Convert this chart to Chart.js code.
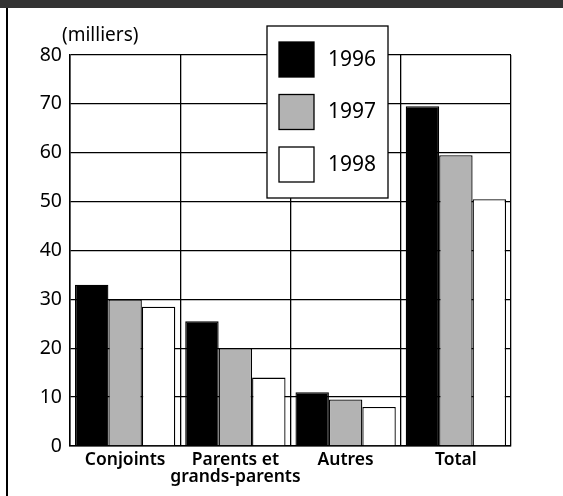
<!DOCTYPE html>
<html>
<head>
<meta charset="utf-8">
<script src="https://cdn.jsdelivr.net/npm/chart.js@4"></script>
<style>
  html, body { margin: 0; padding: 0; background: #fff; }
  #wrap { position: relative; width: 563px; height: 496px; }
</style>
</head>
<body>
<div id="wrap"><canvas id="myChart1" width="563" height="496"></canvas></div>
<script>
const categories = ["Conjoints", ["Parents et", "grands-parents"], "Autres", "Total"];
const years = ["1996", "1997", "1998"];
const values1996 = [33, 25.5, 11, 69.5];
const values1997 = [30, 20, 9.5, 59.5];
const values1998 = [28.5, 14, 8, 50.5];
const yTicks = [0, 10, 20, 30, 40, 50, 60, 70, 80];
const unitLabel = "(milliers)";

const fills = ["#000000", "#b3b3b3", "#ffffff"];
const fontFamily = "'Noto Sans', 'Open Sans', sans-serif";

// dark strip on top and black rule on the left, plus the unit label
const framePlugin = {
  id: "frame",
  beforeDraw(chart) {
    const c = chart.ctx;
    c.save();
    c.fillStyle = "#fff";
    c.fillRect(0, 0, chart.width, chart.height);
    c.fillStyle = "#333333";
    c.fillRect(0, 0, chart.width, 8);
    c.fillStyle = "#000";
    c.fillRect(6, 8, 2, chart.height - 8);
    c.restore();
  },
  afterDraw(chart) {
    const c = chart.ctx;
    c.save();
    c.fillStyle = "#000";
    c.font = "19px " + fontFamily;
    c.textBaseline = "alphabetic";
    c.textAlign = "left";
    c.fillText(unitLabel, 62, 41);
    c.restore();
  },
};

// boxed legend sitting over the plot
const boxLegend = {
  id: "boxLegend",
  afterDraw(chart) {
    const c = chart.ctx;
    c.save();
    c.fillStyle = "#fff";
    c.fillRect(267, 26, 121, 172);
    c.strokeStyle = "#000";
    c.lineWidth = 1.3;
    c.strokeRect(267, 26, 121, 172);
    c.font = "21px " + fontFamily;
    c.textBaseline = "middle";
    c.textAlign = "left";
    chart.data.datasets.forEach((ds, i) => {
      const y = 42 + i * 52.5;
      c.fillStyle = ds.backgroundColor;
      c.fillRect(279, y, 35, 35);
      c.strokeRect(279, y, 35, 35);
      c.fillStyle = "#000";
      c.fillText(ds.label, 328, y + 18);
    });
    c.restore();
  },
};

const chart1 = document.getElementById("myChart1").getContext("2d");
const myChart1 = new Chart(chart1, {
  type: "bar",
  data: {
    labels: categories,
    datasets: [
      { label: years[0], data: values1996, backgroundColor: fills[0] },
      { label: years[1], data: values1997, backgroundColor: fills[1] },
      { label: years[2], data: values1998, backgroundColor: fills[2] },
    ].map((d) => ({
      ...d,
      borderColor: "#000",
      borderWidth: 1.3,
      borderSkipped: "start",
      categoryPercentage: 0.91,
      barPercentage: 1,
    })),
  },
  options: {
    responsive: false,
    animation: false,
    layout: { padding: { left: 0, right: 52, top: 55, bottom: 0 } },
    plugins: {
      legend: { display: false },
      tooltip: { enabled: false },
    },
    scales: {
      x: {
        grid: { color: "#000", lineWidth: 1.3, drawTicks: false, offset: true },
        border: { color: "#000", width: 1.5 },
        ticks: {
          color: "#000",
          padding: 5,
          maxRotation: 0,
          autoSkip: false,
          font: { family: fontFamily, size: 17.5, weight: "600", lineHeight: 1.0 },
        },
        afterFit(scale) { scale.height = 50; },
      },
      y: {
        min: 0,
        max: 80,
        afterBuildTicks(scale) { scale.ticks = yTicks.map((v) => ({ value: v })); },
        grid: { color: "#000", lineWidth: 1.3, drawTicks: false },
        border: { color: "#000", width: 1.5 },
        ticks: {
          color: "#000",
          padding: 8,
          font: { family: fontFamily, size: 19.5 },
        },
        afterFit(scale) { scale.width = 70; },
      },
    },
  },
  plugins: [framePlugin, boxLegend],
});
</script>
</body>
</html>
